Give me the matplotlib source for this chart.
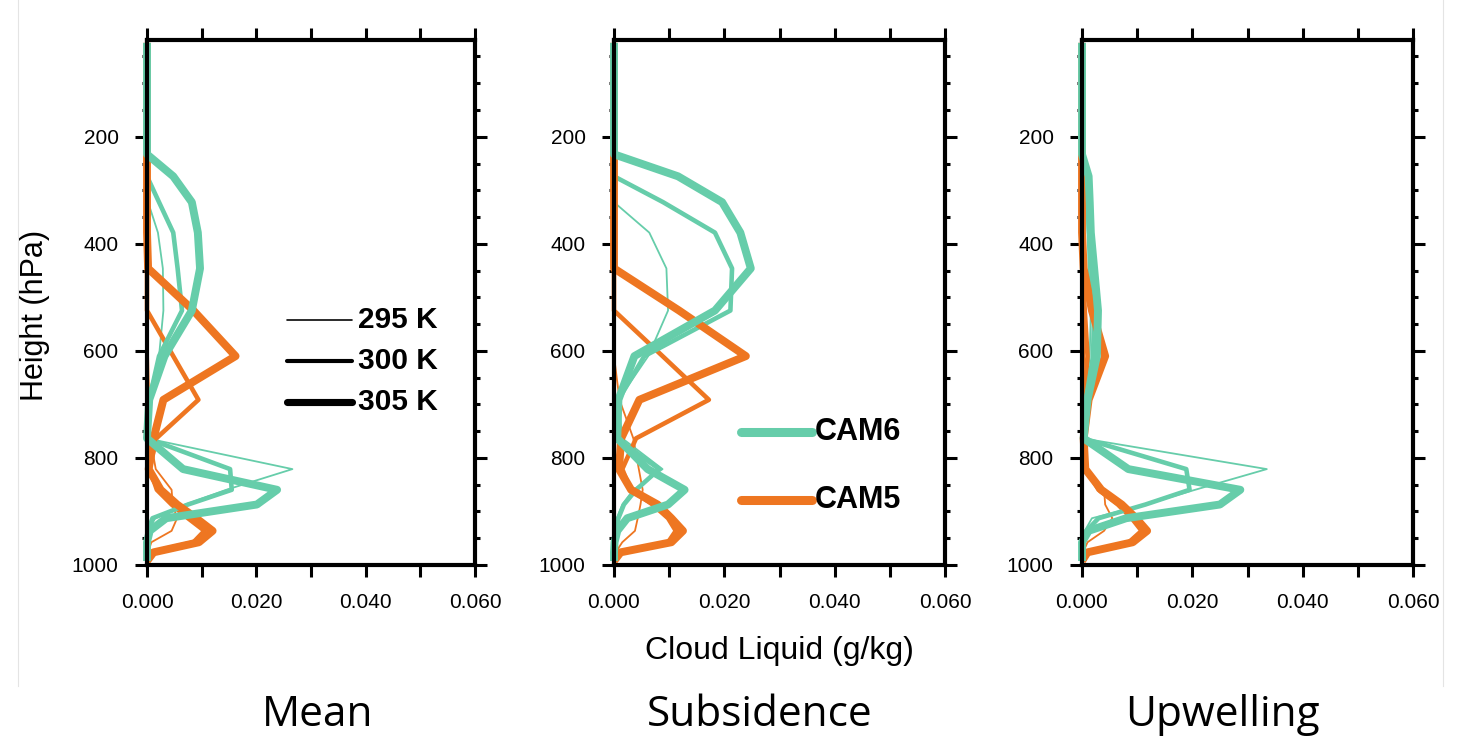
import matplotlib.pyplot as plt
from matplotlib.lines import Line2D

plt.rcParams['font.family'] = ['Liberation Sans', 'DejaVu Sans']

# model mid-levels (hPa)
lev = [24.61, 38.27, 54.60, 72.01, 87.82, 103.32, 121.55, 142.99, 168.23, 197.91,
       232.83, 273.91, 322.24, 379.10, 445.99, 524.69, 609.78, 691.39, 763.40,
       820.86, 859.53, 887.02, 912.64, 936.20, 957.49, 976.33, 992.56]

# cloud liquid (g/kg), Mean
mean_cam5_295 = [0, 0, 0, 0, 0, 0, 0, 0, 0, 0,
                 0, 0, 0, 0, 0, 0, 0.0002, 0.0004, 0.0006,
                 0.0016, 0.0045, 0.0047, 0.0055, 0.0045, 0.0008, 0.0002, 0]
mean_cam5_300 = [0, 0, 0, 0, 0, 0, 0, 0, 0, 0,
                 0, 0, 0, 0, 0, 0, 0.0048, 0.0094, 0.0017,
                 0.0005, 0.0018, 0.0045, 0.0075, 0.0105, 0.0085, 0.0006, 0]
mean_cam5_305 = [0, 0, 0, 0, 0, 0, 0, 0, 0, 0,
                 0, 0, 0, 0, 0.0002, 0.0085, 0.0162, 0.0030, 0.0012,
                 0.0003, 0.0025, 0.0055, 0.0090, 0.0120, 0.0095, 0.0012, 0]
mean_cam6_295 = [0, 0, 0, 0, 0, 0, 0, 0, 0, 0,
                 0, 0, 0.0002, 0.0020, 0.0029, 0.0030, 0.0022, 0.0003, 0,
                 0.0266, 0.0145, 0.0070, 0.0015, 0.0003, 0, 0, 0]
mean_cam6_300 = [0, 0, 0, 0, 0, 0, 0, 0, 0, 0,
                 0, 0, 0.0022, 0.0048, 0.0056, 0.0064, 0.0022, 0.0004, 0,
                 0.0152, 0.0155, 0.0075, 0.0010, 0.0002, 0, 0, 0]
mean_cam6_305 = [0, 0, 0, 0, 0, 0, 0, 0, 0, 0,
                 0, 0.0048, 0.0082, 0.0093, 0.0097, 0.0082, 0.0032, 0.0004, 0,
                 0.0066, 0.0238, 0.0201, 0.0035, 0.0005, 0, 0, 0]

# Subsidence
sub_cam5_295 = [0, 0, 0, 0, 0, 0, 0, 0, 0, 0,
                0, 0, 0, 0, 0, 0, 0, 0.0010, 0.0035,
                0.0045, 0.0052, 0.0048, 0.0043, 0.0038, 0.0015, 0.0003, 0]
sub_cam5_300 = [0, 0, 0, 0, 0, 0, 0, 0, 0, 0,
                0, 0, 0, 0, 0, 0, 0.0088, 0.0172, 0.0040,
                0.0015, 0.0030, 0.0070, 0.0098, 0.0112, 0.0098, 0.0010, 0]
sub_cam5_305 = [0, 0, 0, 0, 0, 0, 0, 0, 0, 0,
                0, 0, 0, 0, 0, 0.0118, 0.0239, 0.0046, 0.0013,
                0.0009, 0.0031, 0.0079, 0.0104, 0.0125, 0.0104, 0.0012, 0]
sub_cam6_295 = [0, 0, 0, 0, 0, 0, 0, 0, 0, 0,
                0, 0, 0, 0.0064, 0.0095, 0.0098, 0.0062, 0.0008, 0.0015,
                0.0088, 0.0035, 0.0015, 0.0005, 0.0002, 0, 0, 0]
sub_cam6_300 = [0, 0, 0, 0, 0, 0, 0, 0, 0, 0,
                0, 0, 0.0089, 0.0183, 0.0214, 0.0211, 0.0055, 0.0008, 0.0004,
                0.0082, 0.0040, 0.0018, 0.0008, 0.0003, 0, 0, 0]
sub_cam6_305 = [0, 0, 0, 0, 0, 0, 0, 0, 0, 0,
                0, 0.0116, 0.0196, 0.0229, 0.0248, 0.0183, 0.0037, 0.0008, 0.0006,
                0.0061, 0.0128, 0.0098, 0.0024, 0.0006, 0.0001, 0, 0]

# Upwelling
up_cam5_295 = [0, 0, 0, 0, 0, 0, 0, 0, 0, 0,
               0, 0, 0, 0, 0, 0.0002, 0.0004, 0.0002, 0.0001,
               0.0004, 0.0040, 0.0042, 0.0055, 0.0040, 0.0010, 0.0002, 0]
up_cam5_300 = [0, 0, 0, 0, 0, 0, 0, 0, 0, 0,
               0, 0, 0, 0, 0.0001, 0.0005, 0.0010, 0.0004, 0.0001,
               0.0008, 0.0030, 0.0065, 0.0090, 0.0108, 0.0085, 0.0008, 0]
up_cam5_305 = [0, 0, 0, 0, 0, 0, 0, 0, 0, 0,
               0, 0, 0, 0, 0.0003, 0.0018, 0.0042, 0.0012, 0.0003,
               0.0006, 0.0035, 0.0072, 0.0098, 0.0118, 0.0092, 0.0010, 0]
up_cam6_295 = [0, 0, 0, 0, 0, 0, 0, 0, 0, 0,
               0, 0.0006, 0.0008, 0.0010, 0.0012, 0.0016, 0.0014, 0.0005, 0.0001,
               0.0335, 0.0205, 0.0115, 0.0018, 0.0005, 0, 0, 0]
up_cam6_300 = [0, 0, 0, 0, 0, 0, 0, 0, 0, 0,
               0, 0.0009, 0.0011, 0.0013, 0.0017, 0.0022, 0.0020, 0.0007, 0.0002,
               0.0189, 0.0195, 0.0115, 0.0030, 0.0008, 0, 0, 0]
up_cam6_305 = [0, 0, 0, 0, 0, 0, 0, 0, 0, 0,
               0, 0.0012, 0.0014, 0.0016, 0.0022, 0.0029, 0.0027, 0.0010, 0.0003,
               0.0084, 0.0287, 0.0250, 0.0080, 0.0012, 0, 0, 0]

panel_names = ["Mean", "Subsidence", "Upwelling"]
sst_labels = ["295 K", "300 K", "305 K"]
model_labels = ["CAM6", "CAM5"]
xtick_vals = [0, 0.01, 0.02, 0.03, 0.04, 0.05, 0.06]
xtick_labels = ["0.000", "", "0.020", "", "0.040", "", "0.060"]
ytick_vals = [200, 400, 600, 800, 1000]

panels = [
    [(mean_cam5_295, mean_cam6_295), (mean_cam5_300, mean_cam6_300), (mean_cam5_305, mean_cam6_305)],
    [(sub_cam5_295, sub_cam6_295), (sub_cam5_300, sub_cam6_300), (sub_cam5_305, sub_cam6_305)],
    [(up_cam5_295, up_cam6_295), (up_cam5_300, up_cam6_300), (up_cam5_305, up_cam6_305)],
]

c_cam6 = "#66CDAA"
c_cam5 = "#EE7621"
lws = [1.3, 3.3, 5.7]

W, H = 1465, 739
fig = plt.figure(figsize=(W / 100, H / 100), dpi=100)

lefts = [147, 614, 1082]
widths = [328, 331, 331]
name_x = [318, 760, 1222]
axes = []
for i in range(3):
    ax = fig.add_axes([lefts[i] / W, (H - 565) / H, widths[i] / W, 525 / H])
    axes.append(ax)
    for k in range(3):
        cam5, cam6 = panels[i][k]
        ax.plot(cam5, lev, color=c_cam5, lw=lws[k], solid_joinstyle='round',
                solid_capstyle='butt', clip_on=False, zorder=2)
        ax.plot(cam6, lev, color=c_cam6, lw=lws[k], solid_joinstyle='round',
                solid_capstyle='butt', clip_on=False, zorder=2)
    ax.set_xlim(0, 0.06)
    ax.set_ylim(1000, 19.3)
    ax.set_xticks(xtick_vals)
    ax.set_xticklabels(xtick_labels)
    ax.set_yticks(ytick_vals)
    ax.set_yticks(range(50, 1000, 50), minor=True)
    ax.tick_params(which='both', direction='out', top=True, right=True,
                   width=2.2, labelsize=15)
    ax.tick_params(axis='x', pad=12)
    ax.tick_params(axis='y', pad=12)
    ax.tick_params(which='major', length=8.5)
    ax.tick_params(which='minor', length=3.6)
    for s in ax.spines.values():
        s.set_linewidth(3)
        s.set_zorder(5)
    fig.text(name_x[i] / W, 1 - 715 / H, panel_names[i],
             ha='center', va='center', fontsize=30.5, family=['Open Sans', 'DejaVu Sans'])

# line-thickness key
ax = axes[0]
for k, ypos in enumerate([0.467, 0.389, 0.310]):
    ax.add_line(Line2D([0.427, 0.625], [ypos, ypos], transform=ax.transAxes,
                       color='black', lw=lws[k] * 0.9, solid_capstyle='round'))
    ax.text(0.643, ypos, sst_labels[k], transform=ax.transAxes, va='center',
            ha='left', fontsize=21.5, fontweight='bold')

# model key
ax = axes[1]
for k, (ypos, col) in enumerate([(0.253, c_cam6), (0.124, c_cam5)]):
    ax.add_line(Line2D([0.384, 0.598], [ypos, ypos], transform=ax.transAxes,
                       color=col, lw=6.5, solid_capstyle='round'))
    ax.text(0.607, ypos, model_labels[k], transform=ax.transAxes, va='center',
            ha='left', fontsize=22, fontweight='bold')

fig.text(35 / W, 1 - 315 / H, "Height (hPa)", rotation=90, ha='center',
         va='center', fontsize=22)
fig.text(779 / W, 1 - 651 / H, "Cloud Liquid (g/kg)", ha='center',
         va='center', fontsize=23)

# faint frame
fig.add_artist(Line2D([18 / W, 18 / W], [1 - 686 / H, 1], color='#e4e4e4', lw=0.8))
fig.add_artist(Line2D([1443 / W, 1443 / W], [1 - 686 / H, 1], color='#e4e4e4', lw=0.8))

fig.savefig("out.png", dpi=100)
